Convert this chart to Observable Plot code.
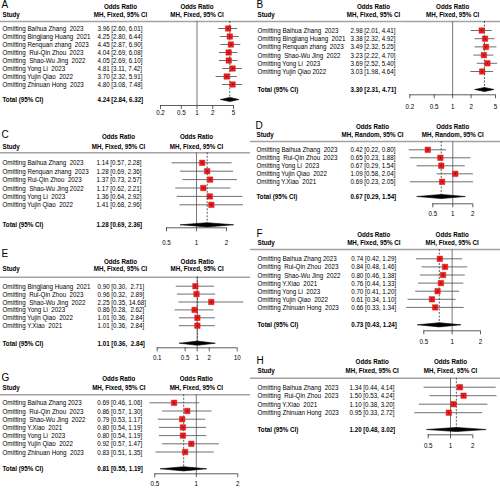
<!DOCTYPE html>
<html><head><meta charset="utf-8">
<script src="https://cdn.jsdelivr.net/npm/d3@7"></script>
<script src="https://cdn.jsdelivr.net/npm/@observablehq/plot@0.6"></script>
<style>
html,body{margin:0;padding:0;background:#fff;}
#wrap{position:relative;width:500px;height:489px;overflow:hidden;background:#fff;}
.panel{position:absolute;width:250px;}
.panel svg text{white-space:pre;}
</style></head><body><div id="wrap"></div>
<script>
// ---------- DATA ----------
const studiesA = ["Omitting Baihua Zhang  2023","Omitting Bingjiang Huang  2021","Omitting Renquan zhang  2023","Omitting  Rui-Qin Zhou  2023","Omitting  Shao-Wu Jing  2022","Omitting Yong Li  2023","Omitting Yujin Qiao  2022","Omitting Zhinuan Hong  2023"];
const orA = [3.96,4.25,4.45,4.04,4.05,4.81,3.70,4.80];
const loA = [2.60,2.80,2.87,2.69,2.69,3.11,2.32,3.08];
const hiA = [6.01,6.44,6.90,6.08,6.10,7.42,5.91,7.48];
const totalA = [4.24,2.84,6.32];
const ticksA = [0.2,0.5,1,2,5];

const studiesB = ["Omitting Baihua Zhang  2023","Omitting Bingjiang Huang  2021","Omitting Renquan zhang  2023","Omitting  Shao-Wu Jing  2022","Omitting Yong Li  2023","Omitting Yujin Qiao 2022"];
const orB = [2.98,3.38,3.49,3.23,3.69,3.03];
const loB = [2.01,2.32,2.32,2.22,2.52,1.98];
const hiB = [4.41,4.92,5.25,4.70,5.40,4.64];
const totalB = [3.30,2.31,4.71];
const ticksB = [0.2,0.5,1,2,5];

const studiesC = ["Omitting Baihua Zhang  2023","Omitting Renquan zhang  2023","Omitting Rui-Qin Zhou  2023","Omitting  Shao-Wu Jing 2022","Omitting Yong Li  2023","Omitting Yujin Qiao  2022"];
const orC = [1.14,1.28,1.37,1.17,1.36,1.41];
const loC = [0.57,0.69,0.73,0.62,0.64,0.68];
const hiC = [2.28,2.36,2.57,2.21,2.92,2.96];
const totalC = [1.28,0.69,2.36];
const ticksC = [0.5,1,2];

const studiesD = ["Omitting Baihua Zhang  2023","Omitting  Rui-Qin Zhou  2023","Omitting Yong Li  2023","Omitting Yujin Qiao  2022","Omitting Y.Xiao  2021"];
const orD = [0.42,0.65,0.67,1.09,0.69];
const loD = [0.22,0.23,0.29,0.58,0.23];
const hiD = [0.80,1.88,1.54,2.04,2.05];
const totalD = [0.67,0.29,1.54];
const ticksD = [0.5,1,2];

const studiesE = ["Omitting Bingjiang Huang  2021","Omitting  Rui-Qin Zhou  2023","Omitting  Shao-Wu Jing  2022","Omitting Yong Li  2023","Omitting Yujin Qiao  2022","Omitting Y.Xiao  2021"];
const orE = [0.90,0.96,2.25,0.86,1.01,1.01];
const loE = [0.30,0.32,0.35,0.28,0.36,0.36];
const hiE = [2.71,2.89,14.68,2.62,2.84,2.84];
const totalE = [1.01,0.36,2.84];
const ticksE = [0.1,0.5,1,2,10];

const studiesF = ["Omitting Baihua Zhang 2023","Omitting  Rui-Qin Zhou  2023","Omitting  Shao-Wu Jing  2022","Omitting Y.Xiao  2021","Omitting Yong Li  2023","Omitting Yujin Qiao  2022","Omitting Zhinuan Hong  2023"];
const orF = [0.74,0.84,0.80,0.76,0.70,0.61,0.66];
const loF = [0.42,0.48,0.46,0.44,0.41,0.34,0.33];
const hiF = [1.29,1.46,1.38,1.33,1.20,1.10,1.34];
const totalF = [0.73,0.43,1.24];
const ticksF = [0.5,1,2];

const studiesG = ["Omitting Baihua Zhang 2023","Omitting  Rui-Qin Zhou  2023","Omitting  Shao-Wu Jing  2022","Omitting Y.Xiao  2021","Omitting Yong Li  2023","Omitting Yujin Qiao  2022","Omitting Zhinuan Hong  2023"];
const orG = [0.69,0.86,0.79,0.80,0.80,0.92,0.83];
const loG = [0.46,0.57,0.53,0.54,0.54,0.57,0.51];
const hiG = [1.06,1.30,1.17,1.19,1.19,1.47,1.35];
const totalG = [0.81,0.55,1.19];
const ticksG = [0.5,1,2];

const studiesH = ["Omitting Baihua Zhang  2023","Omitting  Rui-Qin Zhou  2023","Omitting Y.Xiao  2021","Omitting Zhinuan Hong  2023"];
const orH = [1.34,1.50,1.10,0.95];
const loH = [0.44,0.53,0.38,0.33];
const hiH = [4.14,4.24,3.20,2.72];
const totalH = [1.20,0.48,3.02];
const ticksH = [0.5,1,2];

const fixedLabel = "MH, Fixed, 95% CI";
const randomLabel = "MH, Random, 95% CI";

// ---------- LAYOUT (panel-local pixels) ----------
const layouts = [
 {id:"A", left:0,   top:0,   h:120, label:4,    h1:5.7,  h2:14.3, line:21,   row0:28,   step:8,   total:99,    axis:105,   gap:8.3,  xr:[160,233],     sx:2, ox:97,    hx:120},
 {id:"B", left:250, top:0,   h:115, label:4.5,  h1:5.7,  h2:14.3, line:21,   row0:30,   step:8.2, total:89,    axis:94.3,  gap:12.4, xr:[159.3,245],   sx:7, ox:100,   hx:123},
 {id:"C", left:0,   top:115, h:135, label:19.5, h1:21,   h2:31,   line:37.3, row0:47.3, step:8.4, total:109.3, axis:112.3, gap:15.4, xr:[166,226],     sx:2, ox:96,    hx:118},
 {id:"D", left:250, top:115, h:105, label:10.5, h1:11,   h2:19,   line:26,   row0:34.3, step:8,   total:81,    axis:88.3,  gap:11,   xr:[182.3,222.3], sx:6, ox:100,   hx:122},
 {id:"E", left:0,   top:235, h:128, label:18,   h1:26,   h2:33.3, line:41.7, row0:50.7, step:7.9, total:107.7, axis:112.3, gap:10.7, xr:[156.7,236.7], sx:2, ox:97,    hx:120},
 {id:"F", left:250, top:225, h:122, label:7.8,  h1:9.3,  h2:16.7, line:24,   row0:33.3, step:8.1, total:99.3,  axis:105.3, gap:11.4, xr:[173.3,230],   sx:7, ox:100.7, hx:123.3},
 {id:"G", left:0,   top:355, h:134, label:22,   h1:23.3, h2:31.7, line:39.3, row0:47.3, step:8.2, total:113.3, axis:118.3, gap:11,   xr:[154.3,237.3], sx:2, ox:96.7,  hx:118.3},
 {id:"H", left:250, top:355, h:96,  label:5.5,  h1:6,    h2:15,   line:22.7, row0:31.7, step:8.5, total:74,    axis:79.3,  gap:11.4, xr:[177.7,222.3], sx:7, ox:99,    hx:121.7}
];

const FONT = "'Liberation Sans',Arial,sans-serif";
const FS = 7.8;
const SQUEEZE = 0.8; // reference text is horizontally condensed

function panel(L, studies, or, lo, hi, total, ticks, method) {
  const fmt = d3.format(".2f");
  const hiW = d3.max([...hi, total[2]], v => fmt(v).length);
  const ci = (o, l, h) => `${fmt(o)} [${fmt(l)}, ${fmt(h).padStart(hiW)}]`;
  const rows = studies.map((s, i) => ({s, i, or: or[i], lo: lo[i], hi: hi[i], t: ci(or[i], lo[i], hi[i])}));
  const u = px => (px - L.row0) / L.step;
  const T = u(L.total), A = u(L.axis), H = u(L.line);
  const dh = 2.1 / L.step;
  const dia = [
    {x: total[1], y: T}, {x: total[0], y: T - dh}, {x: total[2], y: T},
    {x: total[0], y: T + dh}, {x: total[1], y: T}
  ];
  const tmin = ticks[0], tmax = ticks[ticks.length - 1];
  const one = (v) => [v];
  return Plot.plot({
    width: 250, height: L.h,
    marginTop: 0, marginLeft: 0, marginRight: 0, marginBottom: L.h - L.axis,
    x: {type: "log", domain: [tmin, tmax], range: L.xr, axis: null},
    y: {type: "linear", domain: [0, 1], range: [L.row0, L.row0 + L.step], axis: null},
    style: {background: "transparent", overflow: "visible", fontFamily: FONT, fontSize: FS + "px", color: "#000"},
    marks: [
      Plot.ruleY(one(H), {y: d => d, stroke: "#a3a3a3", strokeWidth: 1.6}),
      Plot.ruleX(one(1), {x: d => d, y1: H, y2: A, stroke: "#6a6a6a", strokeWidth: 0.9}),
      Plot.ruleX(one(total[0]), {x: d => d, y1: H, y2: T, stroke: "#333", strokeWidth: 0.8, strokeDasharray: "2,1.5"}),
      Plot.ruleY(rows, {y: "i", x1: "lo", x2: "hi", stroke: "#4a4a4a", strokeWidth: 0.8}),
      Plot.dot(rows, {x: "or", y: "i", symbol: "square", r: 3.1, fill: "#ee1b1b", stroke: "#d01010", strokeWidth: 0.4}),
      Plot.dot(rows, {x: "or", y: "i", r: 0.7, fill: "#222", stroke: "none"}),
      Plot.line(dia, {x: "x", y: "y", fill: "#000", stroke: "#000", strokeWidth: 0.6}),
      Plot.ruleY(one(A), {y: d => d, x1: tmin, x2: tmax, stroke: "#333", strokeWidth: 0.8}),
      Plot.axisX({ticks: ticks, tickFormat: d => String(d), tickSize: 4, tickPadding: Math.max(0, L.gap - 8), fontSize: FS, stroke: "#333", strokeWidth: 0.8}),
      // panel letter
      Plot.text(one(L.id), {text: d => d, y: () => u(L.label), frameAnchor: "left", dx: L.sx - 1, textAnchor: "start", fontSize: 10, fontFamily: "'Liberation Sans',Arial,sans-serif"}),
      // headers
      Plot.text(one("Study"), {text: d => d, y: () => u(L.h2), frameAnchor: "left", dx: L.sx, textAnchor: "start", fontWeight: "bold"}),
      Plot.text(one("Odds Ratio"), {text: d => d, y: () => u(L.h1), frameAnchor: "left", dx: L.hx, textAnchor: "middle", fontWeight: "bold"}),
      Plot.text(one(method), {text: d => d, y: () => u(L.h2), frameAnchor: "left", dx: L.hx, textAnchor: "middle", fontWeight: "bold"}),
      Plot.text(one("Odds Ratio"), {text: d => d, x: () => 1, y: () => u(L.h1), textAnchor: "middle", fontWeight: "bold"}),
      Plot.text(one(method), {text: d => d, x: () => 1, y: () => u(L.h2), textAnchor: "middle", fontWeight: "bold"}),
      // rows
      Plot.text(rows, {text: "s", y: "i", frameAnchor: "left", dx: L.sx, textAnchor: "start"}),
      Plot.text(rows, {text: "t", y: "i", frameAnchor: "left", dx: L.ox, textAnchor: "start"}),
      // total
      Plot.text(one("Total (95% CI)"), {text: d => d, y: () => T, frameAnchor: "left", dx: L.sx, textAnchor: "start", fontWeight: "bold"}),
      Plot.text(one(ci(total[0], total[1], total[2])), {text: d => d, y: () => T, frameAnchor: "left", dx: L.ox, textAnchor: "start", fontWeight: "bold"})
    ]
  });
}

// condense text horizontally around its anchor point (except panel letters)
function squeeze(svg) {
  svg.querySelectorAll("text").forEach(t => {
    if (/^[A-H]$/.test(t.textContent)) return;
    const tr = t.getAttribute("transform");
    if (tr) {
      t.setAttribute("transform", tr + ` scale(${SQUEEZE},1)`);
    } else {
      const x = +(t.getAttribute("x") || 0), y = +(t.getAttribute("y") || 0);
      t.removeAttribute("x"); t.removeAttribute("y");
      t.setAttribute("transform", `translate(${x},${y}) scale(${SQUEEZE},1)`);
    }
  });
  return svg;
}

const specs = [
  [studiesA, orA, loA, hiA, totalA, ticksA, fixedLabel],
  [studiesB, orB, loB, hiB, totalB, ticksB, fixedLabel],
  [studiesC, orC, loC, hiC, totalC, ticksC, fixedLabel],
  [studiesD, orD, loD, hiD, totalD, ticksD, randomLabel],
  [studiesE, orE, loE, hiE, totalE, ticksE, fixedLabel],
  [studiesF, orF, loF, hiF, totalF, ticksF, fixedLabel],
  [studiesG, orG, loG, hiG, totalG, ticksG, fixedLabel],
  [studiesH, orH, loH, hiH, totalH, ticksH, fixedLabel]
];

const wrap = document.getElementById("wrap");
layouts.forEach((L, k) => {
  const div = document.createElement("div");
  div.className = "panel";
  div.style.left = L.left + "px";
  div.style.top = L.top + "px";
  div.appendChild(squeeze(panel(L, ...specs[k])));
  wrap.appendChild(div);
});
</script></body></html>
